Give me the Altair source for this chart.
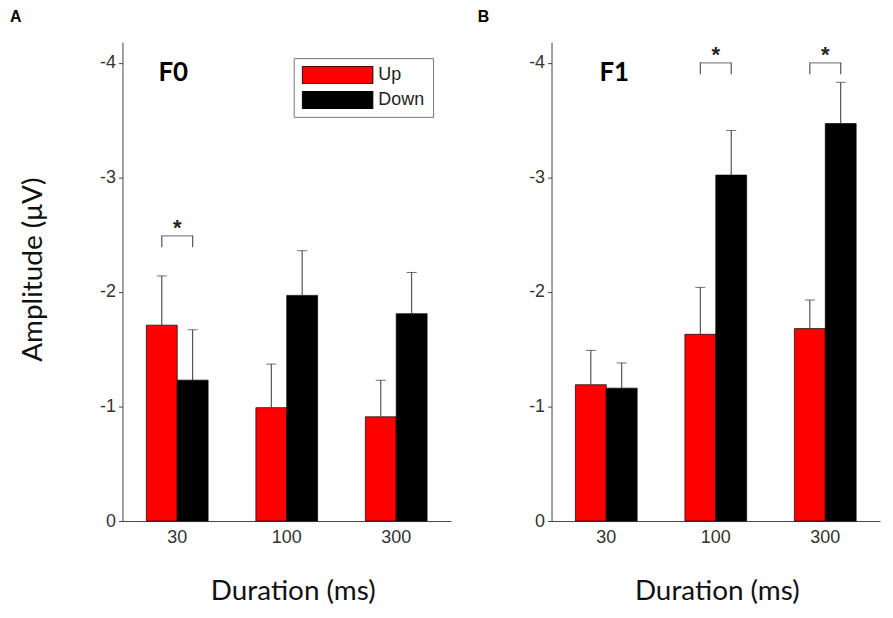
import altair as alt
import pandas as pd

# ---------------- data ----------------
durations = ["30", "100", "300"]
conditions = ["Up", "Down"]

f0_up = [-1.71, -0.99, -0.91]
f0_up_err = [-2.14, -1.37, -1.23]
f0_down = [-1.23, -1.97, -1.81]
f0_down_err = [-1.67, -2.36, -2.17]

f1_up = [-1.19, -1.63, -1.68]
f1_up_err = [-1.49, -2.04, -1.93]
f1_down = [-1.16, -3.02, -3.47]
f1_down_err = [-1.38, -3.41, -3.83]

f0_sig_dur = ["30"]
f0_sig_low = [-2.39]
f0_sig_high = [-2.49]
f1_sig_dur = ["100", "300"]
f1_sig_low = [-3.90, -3.90]
f1_sig_high = [-4.00, -4.00]

y_ticks = [-4, -3, -2, -1, 0]
y_domain = [-4.18, 0]

colors = ["#ff0000", "#000000"]
AXIS_FONT = "Liberation Sans"
TITLE_FONT = "Lato"


def panel(up, up_err, down, down_err, sig_dur, sig_lo, sig_hi,
          name, name_dx, letter, letter_dx, legend, ytitle, xtitle_x):
    bars = pd.DataFrame({
        "duration": durations * 2,
        "condition": ["Up"] * 3 + ["Down"] * 3,
        "value": up + down,
        "err": up_err + down_err,
    })
    legs = pd.DataFrame({
        "duration": sig_dur * 2,
        "condition": ["Up"] * len(sig_dur) + ["Down"] * len(sig_dur),
        "lo": sig_lo * 2,
        "hi": sig_hi * 2,
    })
    sig = pd.DataFrame({"duration": sig_dur, "hi": sig_hi})
    lab = pd.DataFrame({"duration": ["30"], "y": [-3.91], "t": [name]})

    xenc = alt.X(
        "duration:N", sort=durations,
        scale=alt.Scale(domain=durations, paddingInner=0.436, paddingOuter=0.218),
        axis=alt.Axis(title="Duration (ms)", ticks=False, labelPadding=8,
                      labelAngle=0, titlePadding=31, titleX=xtitle_x),
    )
    xoff = alt.XOffset("condition:N", sort=conditions,
                       scale=alt.Scale(domain=conditions, paddingInner=0, paddingOuter=0))
    yscale = alt.Scale(domain=y_domain, reverse=True, nice=False, zero=False)
    yaxis = alt.Axis(
        title="Amplitude (\u03bcV)" if ytitle else None,
        values=y_ticks, tickSize=4, labelPadding=3, titlePadding=52, titleY=228,
        labelExpr="datum.value == 0 ? '0' : '-' + abs(datum.value)",
    )
    color = alt.Color("condition:N",
                      scale=alt.Scale(domain=conditions, range=colors),
                      legend=legend)

    bar = alt.Chart(bars).mark_bar(stroke="#000", strokeWidth=0.7).encode(
        x=xenc, xOffset=xoff,
        y=alt.Y("value:Q", scale=yscale, axis=yaxis),
        color=color,
    )
    errline = alt.Chart(bars).mark_rule(color="#333", strokeWidth=1).encode(
        x=xenc, xOffset=xoff, y="value:Q", y2="err:Q")
    cap = alt.Chart(bars).mark_tick(orient="horizontal", size=10, thickness=1,
                                    color="#333").encode(
        x=xenc, xOffset=xoff, y="err:Q")
    leg = alt.Chart(legs).mark_rule(color="#555", strokeWidth=1.2).encode(
        x=xenc, xOffset=xoff, y="lo:Q", y2="hi:Q")
    top = alt.Chart(sig).mark_tick(orient="horizontal", size=32, thickness=1.2,
                                   color="#555").encode(x=xenc, y="hi:Q")
    star = alt.Chart(sig).mark_text(text="*", fontSize=22, fontWeight="bold",
                                    font=AXIS_FONT, baseline="alphabetic",
                                    dy=-1, color="#222").encode(x=xenc, y="hi:Q")
    name_txt = alt.Chart(lab).mark_text(fontSize=26, fontWeight="bold",
                                        font=TITLE_FONT, baseline="middle",
                                        dx=name_dx, color="#000").encode(
        x=xenc, y="y:Q", text="t:N")

    return alt.layer(bar, errline, cap, leg, top, star, name_txt).properties(
        width=330, height=481,
        title=alt.TitleParams(letter, anchor="start", frame="group", dx=letter_dx,
                              fontSize=16, fontWeight="bold", font=AXIS_FONT,
                              offset=17, color="#000"),
    )


legend_a = alt.Legend(
    orient="none", legendX=172, legendY=16, title=None,
    symbolType="M-1,-0.2535H1V0.2535H-1Z", symbolSize=5041, clipHeight=18,
    rowPadding=7, padding=8, strokeColor="#777", fillColor="white",
    labelFont=AXIS_FONT, labelFontSize=18, labelOffset=5, labelColor="#222",
    symbolStrokeColor="#000", symbolStrokeWidth=1, symbolOpacity=1,
)

left = panel(f0_up, f0_up_err, f0_down, f0_down_err,
             f0_sig_dur, f0_sig_low, f0_sig_high,
             "F0", -4, "A", -113, legend_a, True, 171)
right = panel(f1_up, f1_up_err, f1_down, f1_down_err,
              f1_sig_dur, f1_sig_low, f1_sig_high,
              "F1", 8, "B", -74, None, False, 166)

chart = alt.hconcat(left, right, spacing=101, bounds="flush").resolve_scale(
    color="independent"
).properties(
    padding={"left": 2, "top": 0, "right": 5, "bottom": 5},
    background="white",
).configure_view(stroke=None).configure_axis(
    grid=False, domainColor="#444", tickColor="#444", domainWidth=1,
    labelColor="#333", labelFont=AXIS_FONT, labelFontSize=18,
    titleFont=TITLE_FONT, titleFontSize=28, titleFontWeight="normal",
    titleColor="#111",
)

chart.save("out.html", embed_options={"renderer": "svg", "actions": False})
